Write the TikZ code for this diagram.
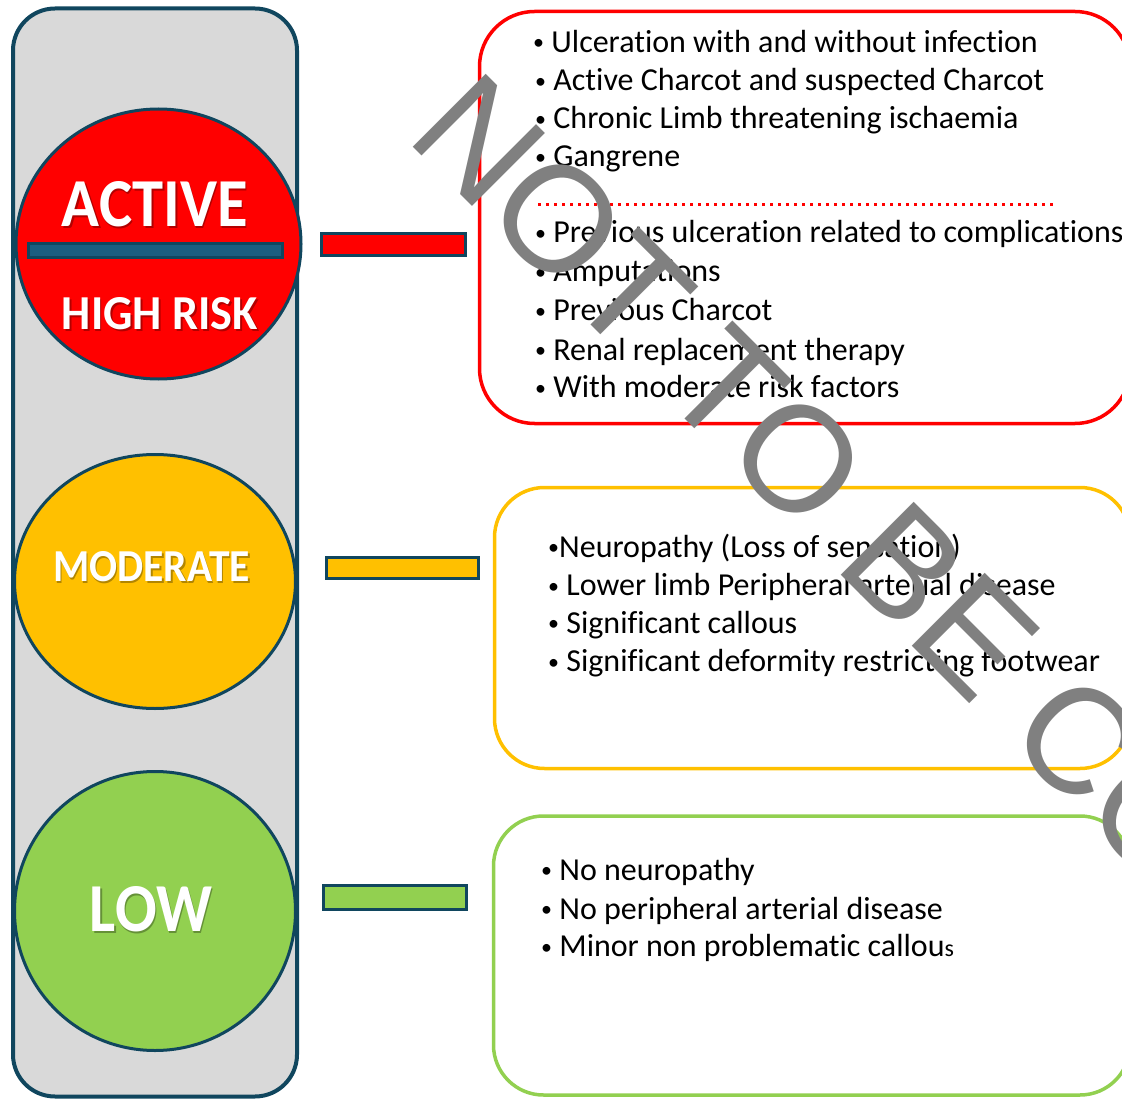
\documentclass[tikz,border=0pt]{standalone}
\usepackage{fontspec}
\setmainfont{Carlito}[Ligatures=NoCommon]
\newfontfamily\wmfont{Liberation Sans}
\usetikzlibrary{shapes.geometric}
\definecolor{edgeteal}{HTML}{10465E}
\definecolor{panelgray}{HTML}{D9D9D9}
\definecolor{redc}{HTML}{FF0000}
\definecolor{amber}{HTML}{FFC000}
\definecolor{lime}{HTML}{92D050}
\definecolor{barblue}{HTML}{1B5E80}
\definecolor{wmgray}{HTML}{808080}
\newcommand\bul{\raisebox{2.5pt}{\fontsize{22}{22}\selectfont •}}
\tikzset{
  lamp/.style={ellipse, draw=edgeteal, line width=3pt, inner sep=0pt},
  linkbar/.style={rectangle, draw=edgeteal, line width=3pt, inner sep=0pt},
  listbox/.style={rectangle, line width=3.5pt, inner sep=0pt, rounded corners=50pt},
  item/.style={anchor=base west, inner sep=0pt, font=\fontsize{32}{38}\selectfont},
  lamplabel/.style={text=white, inner sep=0pt},
  lampshadow/.style={text=black, opacity=0.3, inner sep=0pt},
}
\begin{document}
\begin{tikzpicture}[x=1pt,y=-1pt]
\useasboundingbox (0,0) rectangle (1122,1099);
\clip (0,0) rectangle (1122,1099);
% panel
\node[rectangle, draw=edgeteal, fill=panelgray, line width=4pt, rounded corners=42pt,
      minimum width=284pt, minimum height=1088pt, inner sep=0pt] (panel) at (155,552.5) {};
% lamps
\node[lamp, fill=redc, minimum width=285pt, minimum height=270pt] (high) at (158.5,244) {};
\node[lamp, fill=amber, minimum width=281pt, minimum height=254pt] (mod) at (155,581.5) {};
\node[lamp, fill=lime, minimum width=281pt, minimum height=279pt] (low) at (155,911) {};
\node[rectangle, draw=edgeteal, fill=barblue, line width=2.5pt, inner sep=0pt,
      minimum width=254pt, minimum height=14pt] (divider) at (155.5,250.5) {};
% lamp labels
\node[lampshadow] (activeS) at (156.5,206) {\resizebox{186pt}{45pt}{\bfseries ACTIVE}};
\node[lamplabel] (active) at (155,204.5) {\resizebox{186pt}{45pt}{\bfseries ACTIVE}};
\node[lampshadow] (highS) at (161.5,315.5) {\resizebox{196pt}{32pt}{\bfseries HIGH RISK}};
\node[lamplabel] (highT) at (160,314) {\resizebox{196pt}{32pt}{\bfseries HIGH RISK}};
\node[lampshadow] (modS) at (153,568.5) {\resizebox{197pt}{30pt}{\bfseries MODERATE}};
\node[lamplabel] (modT) at (151.5,567) {\resizebox{197pt}{30pt}{\bfseries MODERATE}};
\node[lampshadow] (lowS) at (152.5,911) {\resizebox{122pt}{45pt}{\bfseries LOW}};
\node[lamplabel] (lowT) at (151,909.5) {\resizebox{122pt}{45pt}{\bfseries LOW}};
% link bars
\node[linkbar, fill=redc, minimum width=144pt, minimum height=22pt] (barH) at (393.5,244.5) {};
\node[linkbar, fill=amber, minimum width=152pt, minimum height=21pt] (barM) at (402.5,568) {};
\node[linkbar, fill=lime, minimum width=143pt, minimum height=24pt] (barL) at (395,897) {};
% boxes
\node[listbox, draw=redc, rounded corners=55pt, minimum width=650.5pt, minimum height=412pt] (boxH) at (804.75,217.5) {};
\node[listbox, draw=amber, minimum width=635.5pt, minimum height=281pt] (boxM) at (812.25,628) {};
\node[listbox, draw=lime, minimum width=636.5pt, minimum height=279pt] (boxL) at (811.75,955.5) {};
% high risk items
\node[item] (h1) at (533,52.5) {\bul\ Ulceration with and without infection};
\node[item] (h2) at (535,91) {\bul\ Active Charcot and suspected Charcot};
\node[item] (h3) at (535,129) {\bul\ Chronic Limb threatening ischaemia};
\node[item] (h4) at (535,167) {\bul\ Gangrene};
\coordinate (dotA) at (538,205);
\coordinate (dotB) at (1055,205);
\draw[redc, line width=3pt, dash pattern=on 3pt off 5pt] (dotA) -- (dotB);
\node[item] (h5) at (535,243) {\bul\ Previous ulceration related to complications};
\node[item] (h6) at (535,282) {\bul\ Amputations};
\node[item] (h7) at (535,321) {\bul\ Previous Charcot};
\node[item] (h8) at (535,360) {\bul\ Renal replacement therapy};
\node[item] (h9) at (535,397.5) {\bul\ With moderate risk factors};
% moderate items
\node[item] (m1) at (548,557) {\bul Neuropathy (Loss of sensation)};
\node[item] (m2) at (548,595.5) {\bul\ Lower limb Peripheral arterial disease};
\node[item] (m3) at (548,633) {\bul\ Significant callous};
\node[item] (m4) at (548,671.5) {\bul\ Significant deformity restricting footwear};
% low items
\node[item] (l1) at (541,880) {\bul\ No neuropathy};
\node[item] (l2) at (541,919) {\bul\ No peripheral arterial disease};
\node[item] (l3) at (541,956.5) {\bul\ Minor non problematic callou{\fontsize{24}{24}\selectfont s}};
% watermark
\node[anchor=base west, inner sep=0pt, rotate=-45, text=wmgray,
      font=\wmfont\fontsize{150}{150}\selectfont] (wm) at (404,138) {NOT TO BE COPIED};
\end{tikzpicture}
\end{document}
